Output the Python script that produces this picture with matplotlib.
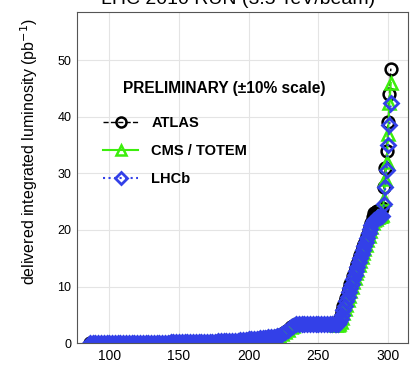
import matplotlib.pyplot as plt

plt.rcParams['font.family'] = ['Liberation Sans', 'DejaVu Sans']

# day of year, shared early period (all three experiments overlap here)
early_days = [86, 88, 90, 92, 94, 96, 98, 100, 102, 104, 106, 108, 110, 112, 114, 116, 118, 120,
              122, 124, 126, 128, 130, 132, 134, 136, 138, 140, 142, 144, 146, 148,
              150, 152, 154, 156, 158, 160, 162, 164, 166, 168, 170, 172, 174, 176, 178, 180,
              182, 184, 186, 188, 190,
              192, 194, 196, 198, 200, 202, 204, 206, 208, 210,
              212, 214, 216, 218, 220, 222, 224, 226, 228, 230, 232, 234, 236, 238,
              240, 242, 244, 246, 248, 250, 252, 254, 256, 258, 260, 262]
early_lumi = [0.0, 0.0, 0.0, 0.0, 0.0, 0.0, 0.0, 0.0, 0.0, 0.0, 0.0, 0.0, 0.01, 0.01, 0.01, 0.01, 0.01, 0.01,
              0.02, 0.02, 0.03, 0.03, 0.04, 0.05, 0.06, 0.07, 0.08, 0.09, 0.1, 0.11, 0.12, 0.13,
              0.15, 0.16, 0.17, 0.18, 0.19, 0.2, 0.21, 0.22, 0.23, 0.24, 0.25, 0.26, 0.27, 0.28, 0.3, 0.32,
              0.34, 0.36, 0.38, 0.4, 0.42,
              0.45, 0.5, 0.55, 0.6, 0.65, 0.7, 0.75, 0.8, 0.85, 0.9,
              0.95, 1.0, 1.05, 1.1, 1.2, 1.3, 1.6, 2.0, 2.4, 2.8, 3.1, 3.3, 3.3, 3.3,
              3.3, 3.3, 3.3, 3.3, 3.3, 3.3, 3.3, 3.3, 3.3, 3.3, 3.3, 3.3]

# late period, per experiment
late_days = [263, 264, 265, 266, 267, 268, 269, 270, 271, 272, 273, 274, 275, 276, 277, 278, 279, 280,
             281, 282, 283, 284, 285, 286, 287, 288, 289, 290, 291, 292, 293, 294, 295, 296,
             297, 298, 299, 300, 301, 302]
atlas_late = [3.4, 3.6, 4.1, 4.8, 5.6, 6.5, 7.3, 8.0, 8.8, 9.6, 10.4, 11.0, 11.8, 12.5, 13.3, 14.0, 14.8, 15.5,
              16.2, 17.0, 17.6, 18.3, 19.0, 19.8, 20.5, 21.3, 22.2, 23.0, 23.2, 23.3, 23.4, 23.5, 23.6, 23.8,
              27.5, 31.0, 34.0, 39.0, 44.0, 48.5]
cms_late = [3.2, 3.2, 3.4, 3.8, 4.5, 5.3, 6.0, 6.8, 7.6, 8.4, 9.2, 10.0, 10.8, 11.5, 12.3, 13.0, 13.8, 14.5,
            15.2, 16.0, 16.7, 17.4, 18.2, 19.0, 19.8, 20.5, 21.2, 21.8, 22.0, 22.2, 22.3, 22.4, 22.5, 22.6,
            25.5, 29.0, 32.0, 37.0, 42.5, 46.0]
lhcb_late = [3.3, 3.4, 3.8, 4.3, 5.0, 5.8, 6.6, 7.4, 8.2, 9.0, 9.8, 10.5, 11.3, 12.0, 12.8, 13.5, 14.3, 15.0,
             15.7, 16.5, 17.2, 17.9, 18.6, 19.4, 20.1, 20.8, 21.4, 21.8, 22.0, 22.1, 22.2, 22.3, 22.4, 22.5,
             24.5, 27.5, 30.5, 35.0, 38.5, 42.5]

days = early_days + late_days

fig = plt.figure(figsize=(4.11, 3.65), dpi=100)
ax = fig.add_axes([0.187, 0.060, 0.806, 0.907])

ax.plot(days, early_lumi + atlas_late, '--', color='black', marker='o', mfc='none',
        ms=8.5, mew=1.8, lw=1, label='ATLAS')
ax.plot(days, early_lumi + cms_late, '-', color='#3cee0c', marker='^', mfc='none',
        ms=8.5, mew=1.8, lw=1.5, label='CMS / TOTEM')
ax.plot(days, early_lumi + lhcb_late, ':', color='#3340e8', marker='D', mfc='none',
        ms=7.5, mew=2, lw=1.5, label='LHCb')

ax.set_xlim(76.7, 314.4)
ax.set_ylim(0, 58.5)
ax.set_xticks([100, 150, 200, 250, 300])
ax.set_yticks([0, 10, 20, 30, 40, 50])
ax.grid(color='#e4e4e4', lw=0.8)
ax.set_axisbelow(True)
ax.tick_params(length=0, labelsize=9, pad=4)
ax.tick_params(axis='x', labelsize=10, pad=4)
for s in ax.spines.values():
    s.set_color('#555555')

ax.set_ylabel('delivered integrated luminosity (pb$^{-1}$)', fontsize=11.5)
ax.yaxis.set_label_coords(-0.11, 0.58)

ax.legend(loc='upper left', bbox_to_anchor=(0.08, 0.686), frameon=False,
          prop={'weight': 'bold', 'size': 10.5}, borderaxespad=0, borderpad=0,
          handlelength=2.4, handletextpad=0.9, labelspacing=0.95, markerscale=0.85)
ax.text(0.139, 0.77, 'PRELIMINARY (\u00b110% scale)', transform=ax.transAxes,
        fontsize=11.2, fontweight='bold', va='center', ha='left')

# title is cut off at the top of the picture
fig.text(0.58, 1.0, 'LHC 2010 RUN (3.5 TeV/beam)', ha='center', va='center', fontsize=14)

fig.savefig('out.png', dpi=100)
